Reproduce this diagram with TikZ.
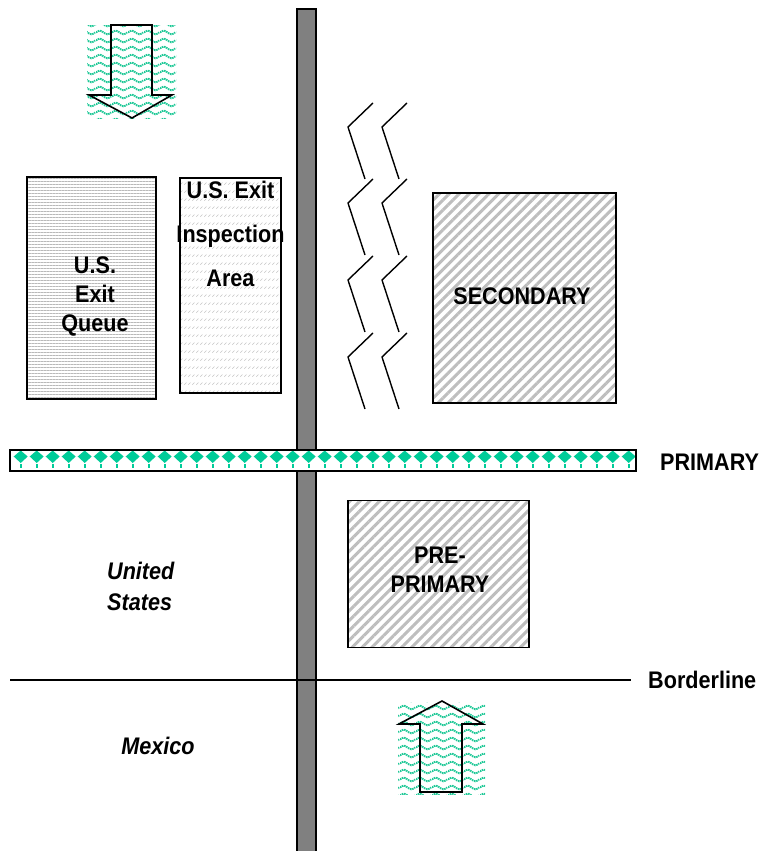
\documentclass[tikz,border=0pt]{standalone}
\usepackage{fontspec}
\setmainfont{Liberation Sans}
\newfontfamily\narrowfont{Liberation Sans}[FakeStretch=0.9]
\usetikzlibrary{patterns,patterns.meta}
\definecolor{primgreen}{RGB}{0,204,153}
\definecolor{wavegreen}{RGB}{30,200,150}
\definecolor{bargray}{RGB}{128,128,128}
\definecolor{stripegray}{RGB}{190,190,190}
\tikzdeclarepattern{
  name=wavy,
  type=uncolored,
  bounding box={(0pt,0pt) and (16pt,7.5pt)},
  tile size={(16pt,7.5pt)},
  code={
    \draw[line width=2pt, dash pattern=on 1.6pt off 0.8pt]
      (0pt,3.75pt) sin (4pt,5.7pt) cos (8pt,3.75pt) sin (12pt,1.8pt) cos (16pt,3.75pt);
  }
}
\tikzdeclarepattern{
  name=slashes,
  type=uncolored,
  bounding box={(0pt,0pt) and (4pt,8pt)},
  tile size={(4pt,8pt)},
  code={
    \draw[line width=0.6pt] (0.4pt,2.5pt) -- (3pt,5pt);
  }
}
\tikzset{
  area/.style={draw=black, line width=1.4pt, inner sep=0pt},
  lbl/.style={font=\narrowfont\bfseries\fontsize{24}{29}\selectfont, align=center, inner sep=0pt},
  country/.style={font=\narrowfont\bfseries\itshape\fontsize{24}{31}\selectfont, align=left, inner sep=0pt},
  zig/.style={line width=1.4pt, black},
  bigarrow/.style={draw=black, line width=1.6pt, line join=miter},
  wavebg/.style={pattern=wavy, pattern color=wavegreen}
}
\begin{document}
\begin{tikzpicture}[x=1pt,y=-1pt]
\useasboundingbox (0,0) rectangle (761,851);
% vertical gray bar
\draw[fill=bargray, line width=2pt] (297,9) rectangle (316,860);
% borderline
\coordinate (bl1) at (10,680);
\coordinate (bl2) at (631,680);
\draw[line width=1.5pt] (bl1) -- (bl2);
\node[lbl, anchor=west] (border) at (648,680) {Borderline};
% primary bar
\fill[white] (10,450) rectangle (636,471);
\foreach \i in {0,...,38}{
  \pgfmathsetmacro{\xx}{20.7+16*\i}
  \fill[primgreen] (\xx,450.5) -- (\xx+7,456.5) -- (\xx,463) -- (\xx-7,456.5) -- cycle;
  \fill[primgreen] (\xx-1,463.5) rectangle (\xx+1,467.5);
}
\draw[line width=1.5pt] (10,450) rectangle (636,471);
\node[lbl, anchor=west] (primary) at (660,462) {PRIMARY};
% U.S. exit queue
\node[area, pattern={Lines[angle=0,distance=3pt,line width=1pt]}, pattern color=gray!55,
      minimum width=129pt, minimum height=222pt] (queue) at (91.5,288) {};
\node[lbl] (queuetxt) at (95,296) {U.S.\\Exit\\Queue};
% U.S. exit inspection area
\node[area, pattern=slashes, pattern color=gray!45,
      minimum width=101pt, minimum height=215pt] (insp) at (230.5,285.5) {};
\node[lbl, font=\narrowfont\bfseries\fontsize{24}{44}\selectfont, anchor=north] (insptxt) at (230.5,181) {U.S. Exit\\Inspection\\Area};
% secondary
\node[area, pattern={Lines[angle=45,distance=7pt,line width=3pt]}, pattern color=stripegray,
      minimum width=183pt, minimum height=210pt] (secondary) at (524.5,298) {};
\node[lbl] (sectxt) at (522,296) {SECONDARY};
% pre-primary
\node[area, pattern={Lines[angle=45,distance=7pt,line width=3pt]}, pattern color=stripegray,
      minimum width=181pt, minimum height=147pt] (preprimary) at (438.5,574) {};
\node[lbl] (pretxt) at (440,570) {PRE-\\PRIMARY};
% zigzags
\foreach \dx in {0,34}{
  \foreach \y in {103,179,256,333}{
    \draw[zig] (373+\dx,\y) -- (348+\dx,\y+24) -- (365+\dx,\y+76);
  }
}
% country labels
\node[country, anchor=west] (us) at (107,586) {United\\States};
\node[country] (mx) at (158,746) {Mexico};
% top arrow (down)
\fill[wavebg] (87,26) rectangle (176,118);
\draw[bigarrow] (111,25) -- (152,25) -- (152,95) -- (172,95) -- (132,118) -- (89,95) -- (111,95) -- cycle;
% bottom arrow (up)
\fill[wavebg] (398,702) rectangle (485,794);
\draw[bigarrow] (420,792) -- (462,792) -- (462,724) -- (483,724) -- (442,701) -- (399,724) -- (420,724) -- cycle;
\end{tikzpicture}
\end{document}
